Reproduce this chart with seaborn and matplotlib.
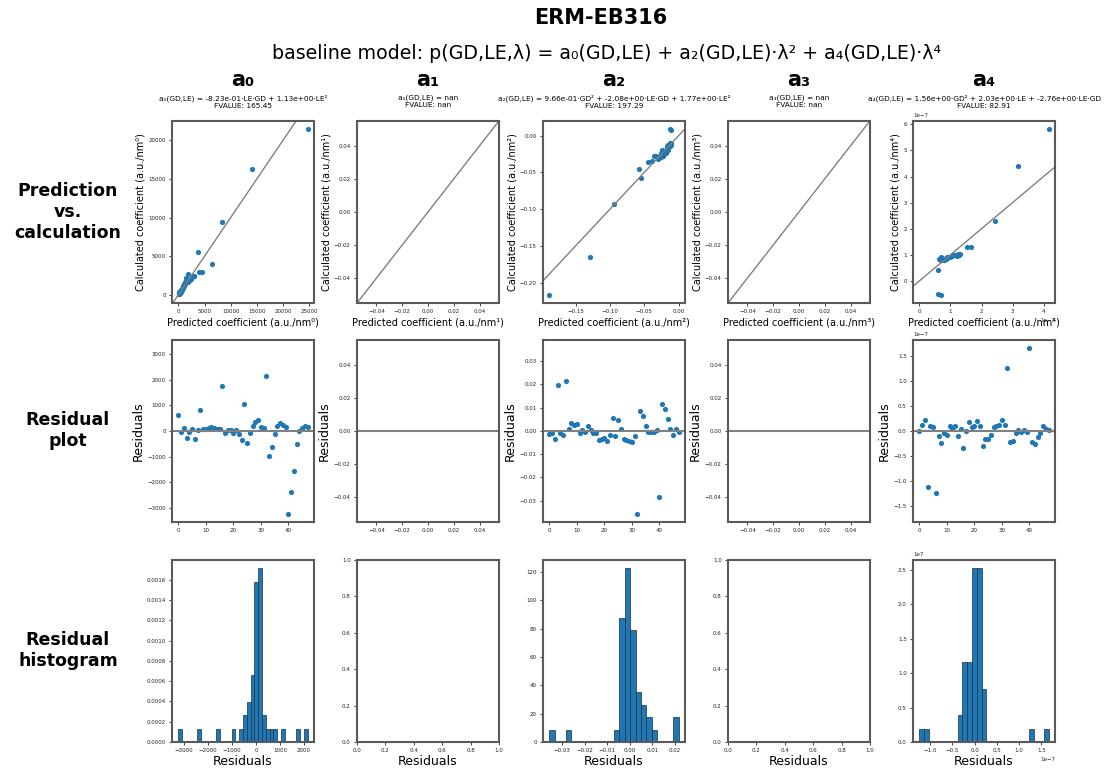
import numpy as np
import matplotlib
matplotlib.use("Agg")
import matplotlib.pyplot as plt
import seaborn as sns

# ---------------- data ----------------
coef_names = ["a₀", "a₁", "a₂", "a₃", "a₄"]
unit_powers = ["⁰", "¹", "²", "³", "⁴"]
formulas = [
    "a₀(GD,LE) = -8.23e-01·LE·GD + 1.13e+00·LE²",
    "a₁(GD,LE) = nan",
    "a₂(GD,LE) = 9.66e-01·GD² + -2.08e+00·LE·GD + 1.77e+00·LE²",
    "a₃(GD,LE) = nan",
    "a₄(GD,LE) = 1.56e+00·GD² + 2.03e+00·LE + -2.76e+00·LE·GD",
]
fvalues = ["165.45", "nan", "197.29", "nan", "82.91"]
row_labels = ["Prediction\nvs.\ncalculation", "Residual\nplot", "Residual\nhistogram"]

a0_pred = [1500, 300, 500, 2600, 200, 400, 2700, 250, 1900, 600, 800, 1000,
           1200, 1100, 900, 700, 3800, 150, 100, 120, 350, 80, 450, 2200,
           8400, 2500, 550, 1400, 1300, 1600, 900, 650, 14100, 3970, 3000, 1800,
           1000, 1100, 1250, 850, 24700, 6400, 4570, 2900, 50, 180, 300, 400]
a0_resid = [600, -50, 100, -260, -40, 60, -330, 40, 800, 60, 90, 130,
            170, 130, 90, 60, 1750, -80, 40, 40, -100, 50, -130, -350,
            1060, -470, -100, 200, 360, 430, 170, 100, 2150, -970, -630, -140,
            200, 290, 210, 140, -3230, -2390, -1570, -500, -20, 120, 190, 170]

a2_pred = [-0.020, -0.018, -0.022, -0.0115, -0.016, -0.019, -0.0125, -0.014, -0.017, -0.015, -0.013, -0.021,
           -0.012, -0.024, -0.026, -0.011, -0.023, -0.027, -0.025, -0.020, -0.018, -0.022, -0.030, -0.033,
           -0.028, -0.039, -0.094, -0.016, -0.019, -0.021, -0.023, -0.055, -0.129, -0.036, -0.034, -0.015,
           -0.014, -0.013, -0.012, -0.017, -0.188, -0.0575, -0.045, -0.024, -0.012, -0.011, -0.015, -0.016]
a2_resid = [-0.0013, -0.0011, -0.0037, 0.0199, -0.0009, -0.0019, 0.0216, 0.0009, 0.0033, 0.0027, 0.0029, -0.0009,
            0.0004, -0.0007, 0.0020, 0.0004, -0.0009, -0.0009, -0.0039, -0.0033, -0.0030, -0.0044, -0.0019, 0.0054,
            -0.0023, 0.0046, 0.0010, -0.0037, -0.0041, -0.0043, -0.0047, -0.0024, -0.0356, 0.0084, 0.0066, 0.0021,
            -0.0004, -0.0004, -0.0004, 0.0004, -0.0284, 0.0116, 0.0096, 0.0050, 0.0010, -0.0016, 0.0006, -0.0006]

a4_pred = np.array([0.80, 0.70, 0.68, 0.61, 0.75, 0.78, 0.71, 1.00, 1.20, 0.90, 1.05, 0.72,
                    0.85, 0.74, 1.10, 0.88, 1.66, 0.92, 0.66, 0.76, 0.73, 0.65, 0.70, 1.28,
                    2.45, 1.15, 1.08, 0.77, 0.71, 0.69, 0.64, 0.68, 3.16, 1.53, 0.61, 0.95,
                    0.83, 0.86, 0.82, 0.87, 4.16, 1.25, 1.30, 1.12, 0.97, 0.72, 0.80, 0.79]) * 1e-7
a4_resid = np.array([-0.01, 0.12, 0.22, -1.13, 0.09, 0.07, -1.24, -0.10, -0.24, -0.04, -0.08, 0.10,
                     0.03, 0.09, -0.10, 0.03, -0.35, -0.01, 0.17, 0.07, 0.09, 0.19, 0.10, -0.30,
                     -0.17, -0.16, -0.09, 0.07, 0.10, 0.11, 0.21, 0.11, 1.26, -0.22, -0.21, -0.05,
                     0.02, -0.02, 0.01, -0.03, 1.66, -0.23, -0.27, -0.13, -0.05, 0.10, 0.03, 0.02]) * 1e-7

series = {
    0: (np.array(a0_pred, float), np.array(a0_resid, float), 34),
    2: (np.array(a2_pred, float), np.array(a2_resid, float), 24),
    4: (a4_pred, a4_resid, 27),
}

# ---------------- style ----------------
sns.set_style("ticks")
plt.rcParams.update({
    "font.family": ["DejaVu Sans"],
    "text.color": "black",
    "axes.labelcolor": "black",
    "axes.edgecolor": "#5a5a5a",
    "axes.linewidth": 1.5,
    "xtick.labelsize": 4,
    "ytick.labelsize": 4,
    "xtick.major.size": 2.5,
    "ytick.major.size": 2.5,
    "xtick.major.width": 0.6,
    "ytick.major.width": 0.6,
    "xtick.major.pad": 2,
    "ytick.major.pad": 2,
    "xtick.color": "#222222",
    "ytick.color": "#222222",
})
blue = "#1f77b4"

fig = plt.figure(figsize=(11.13, 7.69), dpi=100)
lefts = [0.1545, 0.3208, 0.4879, 0.6541, 0.8203]
bottoms = [0.606, 0.3212, 0.0351]
w, h = 0.1276, 0.237

fig.text(0.540, 0.976, "ERM-EB316", ha="center", va="center", fontsize=15, fontweight="bold")
fig.text(0.545, 0.930, "baseline model: p(GD,LE,λ) = a₀(GD,LE) + a₂(GD,LE)·λ² + a₄(GD,LE)·λ⁴",
         ha="center", va="center", fontsize=13.7)

for r, lab in enumerate(row_labels):
    fig.text(0.061, bottoms[r] + h / 2, lab, ha="center", va="center",
             fontsize=12.5, fontweight="bold", linespacing=1.2)

for c in range(5):
    cx = lefts[c] + w / 2
    fig.text(cx, 0.896, coef_names[c], ha="center", va="center", fontsize=15, fontweight="bold")
    fig.text(cx, 0.868, formulas[c] + "\nFVALUE: " + fvalues[c], ha="center", va="center",
             fontsize=5.3, linespacing=1.15)

    ax0 = fig.add_axes([lefts[c], bottoms[0], w, h])
    ax1 = fig.add_axes([lefts[c], bottoms[1], w, h])
    ax2 = fig.add_axes([lefts[c], bottoms[2], w, h])

    if c in series:
        pred, resid, nb = series[c]
        calc = pred + resid
        idx = np.arange(len(resid))
        # prediction vs calculation
        sns.scatterplot(x=pred, y=calc, ax=ax0, s=14, color=blue, linewidth=0)
        ax0.update_datalim(np.array([[0.0, 0.0]]))
        ax0.autoscale_view()
        ax0.axline((0, 0), slope=1, color="gray", lw=1)
        # residual plot
        sns.scatterplot(x=idx, y=resid, ax=ax1, s=14, color=blue, linewidth=0)
        lim = np.abs(resid).max() * 1.1
        ax1.set_ylim(-lim, lim)
        ax1.axhline(0, color="gray", lw=1.5)
        # histogram
        sns.histplot(x=resid, bins=nb, stat="density", ax=ax2, color=blue, alpha=1,
                     edgecolor="#1b2f45", linewidth=0.5)
    else:
        ax0.set_xlim(-0.055, 0.055)
        ax0.set_ylim(-0.055, 0.055)
        ax0.axline((0, 0), slope=1, color="gray", lw=1)
        ax1.set_xlim(-0.055, 0.055)
        ax1.set_ylim(-0.055, 0.055)
        ax1.axhline(0, color="gray", lw=1.5)
        ax2.set_xlim(0, 1)
        ax2.set_ylim(0, 1)

    ax0.set_xlabel(f"Predicted coefficient (a.u./nm{unit_powers[c]})", fontsize=7, labelpad=2)
    ax0.set_ylabel(f"Calculated coefficient (a.u./nm{unit_powers[c]})", fontsize=7, labelpad=2)
    ax1.set_xlabel("")
    ax1.set_ylabel("Residuals", fontsize=9, labelpad=2)
    ax2.set_xlabel("Residuals", fontsize=9, labelpad=1)
    ax2.set_ylabel("")
    for ax in (ax0, ax1, ax2):
        for sp in ax.spines.values():
            sp.set_visible(True)
        ax.xaxis.get_offset_text().set_fontsize(4)
        ax.yaxis.get_offset_text().set_fontsize(4)

fig.savefig("out.png", dpi=100)
